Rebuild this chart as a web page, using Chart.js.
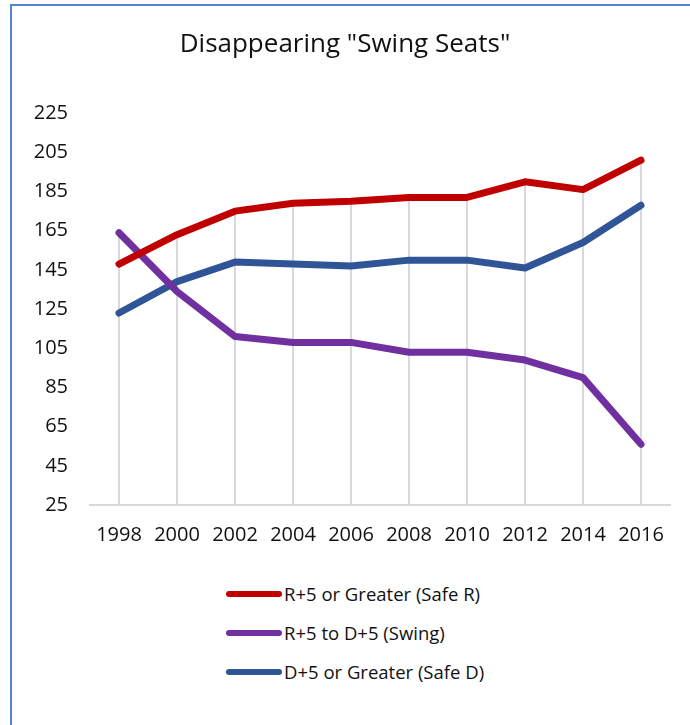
<!DOCTYPE html>
<html>
<head>
<meta charset="utf-8">
<script src="https://cdn.jsdelivr.net/npm/chart.js@4.4.1/dist/chart.umd.min.js"></script>
<style>
    html, body { margin: 0; padding: 0; background: #fff; }
    body { width: 690px; height: 725px; position: relative; overflow: hidden; font-family: "Open Sans", sans-serif; }
    #frame { position: absolute; left: 10px; top: 4px; width: 720px; height: 760px; border: 2px solid #5585d5; }
    #wrap { position: absolute; left: 0; top: 0; width: 690px; height: 560px; }
    #legend { position: absolute; left: 226px; top: 574px; }
    .item { height: 39px; display: flex; align-items: center; }
    .swatch { width: 56px; height: 6px; border-radius: 3px; margin-right: 2px; }
    .label { font-size: 18.5px; color: #111; }
</style>
</head>
<body>
<div id="frame"></div>
<div id="wrap"><canvas id="chart"></canvas></div>
<div id="legend"></div>
<script>
// Categories and series
const years = ['1998', '2000', '2002', '2004', '2006', '2008', '2010', '2012', '2014', '2016'];
const safeR = [148, 163, 175, 179, 180, 182, 182, 190, 186, 201];
const swing = [164, 134, 111, 108, 108, 103, 103, 99, 90, 56];
const safeD = [123, 139, 149, 148, 147, 150, 150, 146, 159, 178];

// Y axis range
const yMin = 25;
const yMax = 225;
const yStep = 20;

const seriesList = [
    { label: 'R+5 or Greater (Safe R)', data: safeR, color: '#c00000' },
    { label: 'R+5 to D+5 (Swing)', data: swing, color: '#7030a0' },
    { label: 'D+5 or Greater (Safe D)', data: safeD, color: '#2f5597' }
];

// Excel style drop lines: from the highest point in each category down to the axis
const dropLines = {
    id: 'dropLines',
    beforeDatasetsDraw(chart) {
        const ctx = chart.ctx;
        const x = chart.scales.x;
        const y = chart.scales.y;
        ctx.save();
        ctx.strokeStyle = '#d9d9d9';
        ctx.lineWidth = 2;
        years.forEach((yr, i) => {
            const top = Math.max(...chart.data.datasets.map(ds => ds.data[i]));
            const px = Math.round(x.getPixelForValue(i));
            ctx.beginPath();
            ctx.moveTo(px, y.getPixelForValue(top));
            ctx.lineTo(px, y.getPixelForValue(yMin));
            ctx.stroke();
        });
        ctx.restore();
    }
};

const chart = new Chart(document.getElementById('chart'), {
    type: 'line',
    data: {
        labels: years,
        datasets: seriesList.map(s => ({
            label: s.label,
            data: s.data,
            borderColor: s.color,
            backgroundColor: s.color,
            borderWidth: 7,
            borderCapStyle: 'round',
            borderJoinStyle: 'round',
            pointRadius: 0,
            tension: 0
        }))
    },
    options: {
        responsive: true,
        maintainAspectRatio: false,
        animation: false,
        layout: {
            padding: { left: 20, right: 20, top: 0, bottom: 5 }
        },
        plugins: {
            legend: { display: false },
            tooltip: { enabled: false },
            title: {
                display: true,
                text: 'Disappearing "Swing Seats"',
                color: '#111',
                font: { family: 'Open Sans', size: 26, weight: 'normal' },
                padding: { top: 29, bottom: 53 }
            }
        },
        scales: {
            x: {
                offset: true,
                grid: { display: false, drawTicks: false },
                border: { display: true, color: '#d9d9d9', width: 2 },
                ticks: {
                    color: '#111',
                    padding: 18,
                    maxRotation: 0,
                    font: { family: 'Open Sans', size: 20 }
                },
                afterFit: (scale) => { scale.height = 50; }
            },
            y: {
                min: yMin,
                max: yMax,
                grid: { display: false, drawTicks: false },
                border: { display: false },
                ticks: {
                    stepSize: yStep,
                    color: '#111',
                    padding: 22,
                    font: { family: 'Open Sans', size: 20 }
                },
                afterFit: (scale) => { scale.width = 70; }
            }
        }
    },
    plugins: [dropLines]
});

// Legend, one entry per row
const legendEl = document.getElementById('legend');
seriesList.forEach(s => {
    const row = document.createElement('div');
    row.className = 'item';
    const sw = document.createElement('div');
    sw.className = 'swatch';
    sw.style.background = s.color;
    const txt = document.createElement('span');
    txt.className = 'label';
    txt.textContent = s.label;
    row.appendChild(sw);
    row.appendChild(txt);
    legendEl.appendChild(row);
});
</script>
</body>
</html>
